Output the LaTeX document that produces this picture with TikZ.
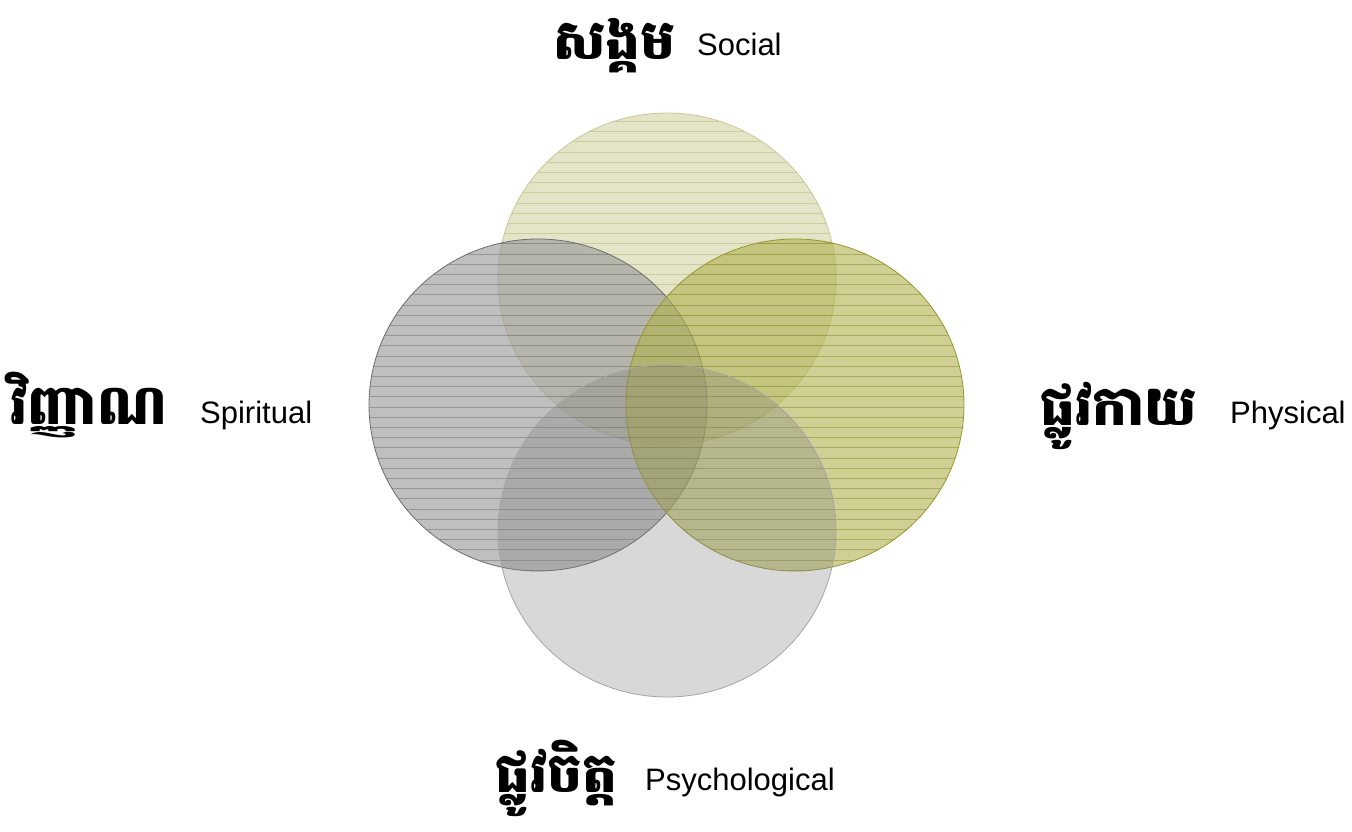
\documentclass[tikz,border=0pt]{standalone}
\usepackage{fontspec}
\setmainfont{Liberation Sans}
\newfontfamily\khmer[Script=Khmer]{Battambang}
\definecolor{socF}{RGB}{210,210,163}
\definecolor{socL}{RGB}{180,180,115}
\definecolor{socD}{RGB}{200,200,150}
\definecolor{phyF}{RGB}{177,177,78}
\definecolor{phyL}{RGB}{135,135,40}
\definecolor{phyD}{RGB}{150,150,45}
\definecolor{spiF}{RGB}{156,156,156}
\definecolor{spiL}{RGB}{110,110,110}
\definecolor{spiD}{RGB}{110,110,110}
\definecolor{psyF}{RGB}{125,125,125}
\definecolor{psyD}{RGB}{165,165,165}
\tikzset{
  en/.style={font=\fontsize{31}{34}\selectfont, anchor=base west, inner sep=0pt},
  kh/.style={font=\khmer\bfseries\fontsize{55}{60}\selectfont, anchor=base west, inner sep=0pt},
}
\newcommand{\hatchcircle}[5]{%
  % #1 centre, #2 fill, #3 line colour, #4 border, #5 opacity
  \fill[#2, fill opacity=#5] (#1) ellipse [x radius=169, y radius=166];
  \begin{scope}
    \clip (#1) ellipse [x radius=169, y radius=166];
    \foreach \yy in {0,...,60} {
      \draw[#3, line width=0.8pt, draw opacity=0.5] (0,101+\yy*10.2) -- (1352,101+\yy*10.2);
    }
  \end{scope}
  \draw[#4, line width=0.8pt] (#1) ellipse [x radius=169, y radius=166];
}
\begin{document}
\begin{tikzpicture}[x=1pt,y=-1pt]
\useasboundingbox (0,0) rectangle (1352,832);
\coordinate (soc) at (667,279);
\coordinate (spi) at (538,405);
\coordinate (phy) at (795,405);
\coordinate (psy) at (667,531);

\hatchcircle{soc}{socF}{socL}{socD}{0.6}
\hatchcircle{spi}{spiF}{spiL}{spiD}{0.65}
\hatchcircle{phy}{phyF}{phyL}{phyD}{0.6}
\fill[psyF, fill opacity=0.3] (psy) ellipse [x radius=169, y radius=166];
\draw[psyD, line width=0.8pt] (psy) ellipse [x radius=169, y radius=166];

\node[kh] (ksoc) at (553,60) {សង្គម};
\node[en] (esoc) at (697,56) {Social};
\node[kh] (kspi) at (10,424) {វិញ្ញាណ};
\node[en] (espi) at (200,423) {Spiritual};
\node[kh] (kphy) at (1040,425) {ផ្លូវកាយ};
\node[en] (ephy) at (1230,423) {Physical};
\node[kh] (kpsy) at (495,792) {ផ្លូវចិត្ត};
\node[en] (epsy) at (645,790) {Psychological};
\end{tikzpicture}
\end{document}
